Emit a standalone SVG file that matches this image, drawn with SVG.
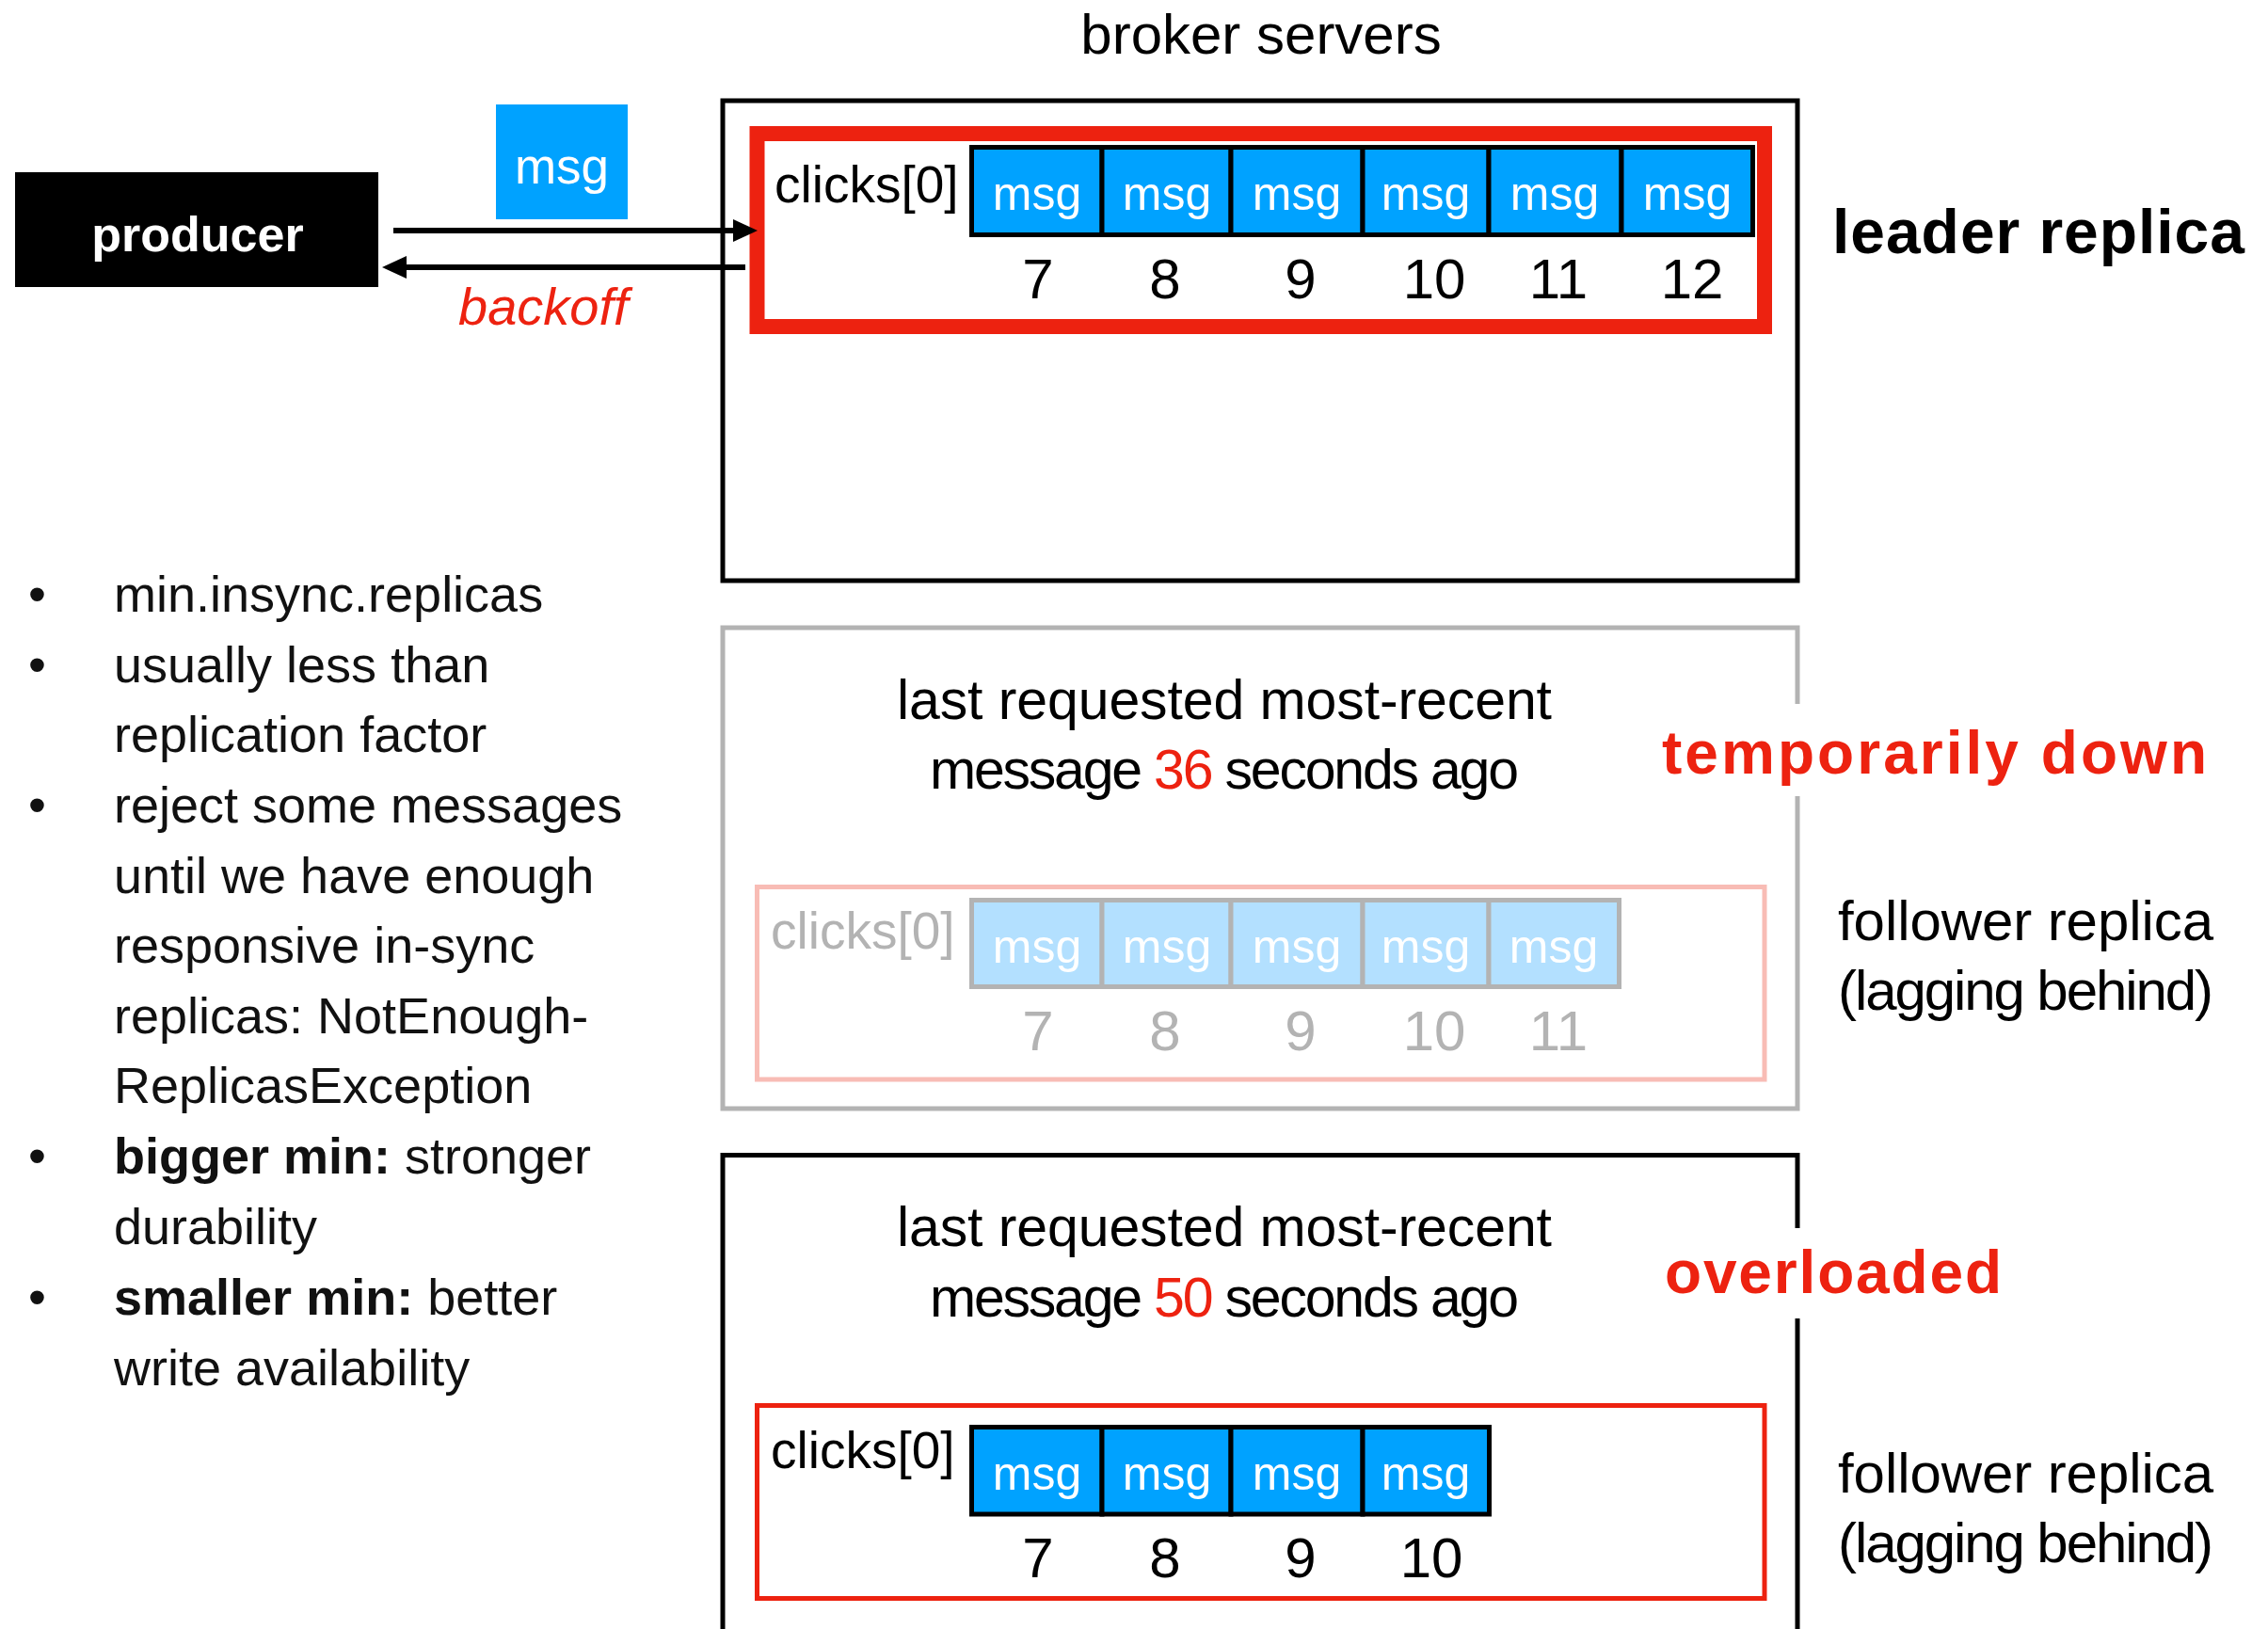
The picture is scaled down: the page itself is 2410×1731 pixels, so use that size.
<svg xmlns="http://www.w3.org/2000/svg" width="2410" height="1731" viewBox="0 0 2410 1731">
<style>
text{font-family:"Liberation Sans",Arial,sans-serif}
.title{font-size:60px;fill:#000}
.big{font-size:60px;fill:#000}
.lab{font-size:55px;fill:#000}
.labg{font-size:55px;fill:#b3b3b3}
.msg{font-size:50px;fill:#fff;text-anchor:middle}
.num{font-size:60px;fill:#000;text-anchor:middle}
.numg{font-size:60px;fill:#b3b3b3;text-anchor:middle}
.cell{fill:#00a2ff;stroke:#000;stroke-width:5}
.cellg{fill:#b3e0ff;stroke:#b3b3b3;stroke-width:5}
.heavy{font-weight:bold;font-size:64px}
.red{fill:#ed2210}
.bul{font-size:54px;fill:#111}
.cent{font-size:59px;fill:#000;text-anchor:middle}
</style>
<defs>
<marker id="ah" markerUnits="userSpaceOnUse" markerWidth="26" markerHeight="24" refX="4" refY="12" orient="auto">
<path d="M0,0 L26,12 L0,24 z" fill="#000"/>
</marker>
</defs>
<rect width="2410" height="1731" fill="#fff"/>

<text class="title" x="1340" y="57" text-anchor="middle">broker servers</text>

<g id="producer">
<rect x="16" y="183" width="386" height="122" fill="#000"/>
<text x="210" y="267" text-anchor="middle" style="font-size:52px;font-weight:bold;fill:#fff">producer</text>
</g>

<g id="msg-token">
<rect x="527" y="111" width="140" height="122" fill="#00a2ff"/>
<text class="msg" x="597" y="195" style="font-size:53px">msg</text>
</g>

<g id="leader">
<rect x="768" y="107" width="1142" height="510" fill="none" stroke="#000" stroke-width="5"/>
<rect x="804.5" y="142" width="1070.5" height="205" fill="none" stroke="#ed2210" stroke-width="16"/>
<text class="lab" x="823" y="215">clicks[0]</text>
<rect class="cell" x="1032.5" y="156.5" width="138.5" height="93"/>
<rect class="cell" x="1171" y="156.5" width="137" height="93"/>
<rect class="cell" x="1308" y="156.5" width="140" height="93"/>
<rect class="cell" x="1448" y="156.5" width="134" height="93"/>
<rect class="cell" x="1582" y="156.5" width="141" height="93"/>
<rect class="cell" x="1723" y="156.5" width="139.5" height="93"/>
<text class="msg" x="1102" y="223">msg</text>
<text class="msg" x="1240" y="223">msg</text>
<text class="msg" x="1378" y="223">msg</text>
<text class="msg" x="1515" y="223">msg</text>
<text class="msg" x="1652" y="223">msg</text>
<text class="msg" x="1793" y="223">msg</text>
<text class="num" x="1103" y="317">7</text>
<text class="num" x="1238" y="317">8</text>
<text class="num" x="1382" y="317">9</text>
<text class="num" x="1524" y="317">10</text>
<text class="num" x="1656" y="317">11</text>
<text class="num" x="1798" y="317">12</text>
</g>
<g id="leader-label">
<text class="heavy" x="1947" y="269" textLength="438" lengthAdjust="spacing" style="font-size:66px">leader replica</text>
</g>

<g id="follower-down">
<rect x="768" y="667" width="1142" height="511" fill="none" stroke="#b3b3b3" stroke-width="5"/>
<text class="cent" x="1301" y="764" textLength="696" lengthAdjust="spacing">last requested most-recent</text>
<text class="cent" x="1301" y="838" textLength="626" lengthAdjust="spacing">message <tspan class="red">36</tspan> seconds ago</text>
<rect x="804.5" y="942.5" width="1070.5" height="204.5" fill="none" stroke="#f8bcb5" stroke-width="5"/>
<text class="labg" x="819" y="1008">clicks[0]</text>
<rect class="cellg" x="1032.5" y="956.5" width="138.5" height="92"/>
<rect class="cellg" x="1171" y="956.5" width="137" height="92"/>
<rect class="cellg" x="1308" y="956.5" width="140" height="92"/>
<rect class="cellg" x="1448" y="956.5" width="134" height="92"/>
<rect class="cellg" x="1582" y="956.5" width="138.5" height="92"/>
<text class="msg" x="1102" y="1023">msg</text>
<text class="msg" x="1240" y="1023">msg</text>
<text class="msg" x="1378" y="1023">msg</text>
<text class="msg" x="1515" y="1023">msg</text>
<text class="msg" x="1651" y="1023">msg</text>
<text class="numg" x="1103" y="1116">7</text>
<text class="numg" x="1238" y="1116">8</text>
<text class="numg" x="1382" y="1116">9</text>
<text class="numg" x="1524" y="1116">10</text>
<text class="numg" x="1656" y="1116">11</text>
</g>
<g id="down-label">
<rect x="1900" y="748" width="20" height="98" fill="#fff"/>
<text class="heavy red" x="1766" y="822" textLength="579" lengthAdjust="spacing">temporarily down</text>
</g>
<g id="follower-down-label">
<text class="big" x="1953" y="999" textLength="399" lengthAdjust="spacing">follower replica</text>
<text class="big" x="1953" y="1073" textLength="399" lengthAdjust="spacing">(lagging behind)</text>
</g>

<g id="follower-overloaded">
<rect x="768" y="1227.5" width="1142" height="560" fill="none" stroke="#000" stroke-width="5"/>
<text class="cent" x="1301" y="1324" textLength="696" lengthAdjust="spacing">last requested most-recent</text>
<text class="cent" x="1301" y="1399" textLength="626" lengthAdjust="spacing">message <tspan class="red">50</tspan> seconds ago</text>
<rect x="804.5" y="1493.5" width="1070.5" height="205" fill="none" stroke="#ed2210" stroke-width="5"/>
<text class="lab" x="819" y="1560">clicks[0]</text>
<rect class="cell" x="1032.5" y="1516.5" width="138.5" height="92.5"/>
<rect class="cell" x="1171" y="1516.5" width="137" height="92.5"/>
<rect class="cell" x="1308" y="1516.5" width="140" height="92.5"/>
<rect class="cell" x="1448" y="1516.5" width="134.5" height="92.5"/>
<text class="msg" x="1102" y="1583">msg</text>
<text class="msg" x="1240" y="1583">msg</text>
<text class="msg" x="1378" y="1583">msg</text>
<text class="msg" x="1515" y="1583">msg</text>
<text class="num" x="1103" y="1676">7</text>
<text class="num" x="1238" y="1676">8</text>
<text class="num" x="1382" y="1676">9</text>
<text class="num" x="1521" y="1676">10</text>
</g>
<g id="overloaded-label">
<rect x="1900" y="1305" width="20" height="96" fill="#fff"/>
<text class="heavy red" x="1769" y="1374" textLength="358" lengthAdjust="spacing">overloaded</text>
</g>
<g id="follower-overloaded-label">
<text class="big" x="1953" y="1586" textLength="399" lengthAdjust="spacing">follower replica</text>
<text class="big" x="1953" y="1660" textLength="399" lengthAdjust="spacing">(lagging behind)</text>
</g>

<g id="connectors">
<line x1="418" y1="245" x2="783" y2="245" stroke="#000" stroke-width="6" marker-end="url(#ah)"/>
<line x1="792" y1="284" x2="428" y2="284" stroke="#000" stroke-width="6" marker-end="url(#ah)"/>
<text x="487" y="345" class="red" style="font-size:56px;font-style:italic">backoff</text>
</g>

<g id="notes">
<text class="bul" x="30" y="650">•</text>
<text class="bul" x="121" y="650">min.insync.replicas</text>
<text class="bul" x="30" y="725">•</text>
<text class="bul" x="121" y="725">usually less than</text>
<text class="bul" x="121" y="799">replication factor</text>
<text class="bul" x="30" y="874">•</text>
<text class="bul" x="121" y="874">reject some messages</text>
<text class="bul" x="121" y="949">until we have enough</text>
<text class="bul" x="121" y="1023">responsive in-sync</text>
<text class="bul" x="121" y="1098">replicas: NotEnough-</text>
<text class="bul" x="121" y="1172">ReplicasException</text>
<text class="bul" x="30" y="1247">•</text>
<text class="bul" x="121" y="1247"><tspan font-weight="bold">bigger min:</tspan> stronger</text>
<text class="bul" x="121" y="1322">durability</text>
<text class="bul" x="30" y="1397">•</text>
<text class="bul" x="121" y="1397"><tspan font-weight="bold">smaller min:</tspan> better</text>
<text class="bul" x="121" y="1472">write availability</text>
</g>
</svg>
